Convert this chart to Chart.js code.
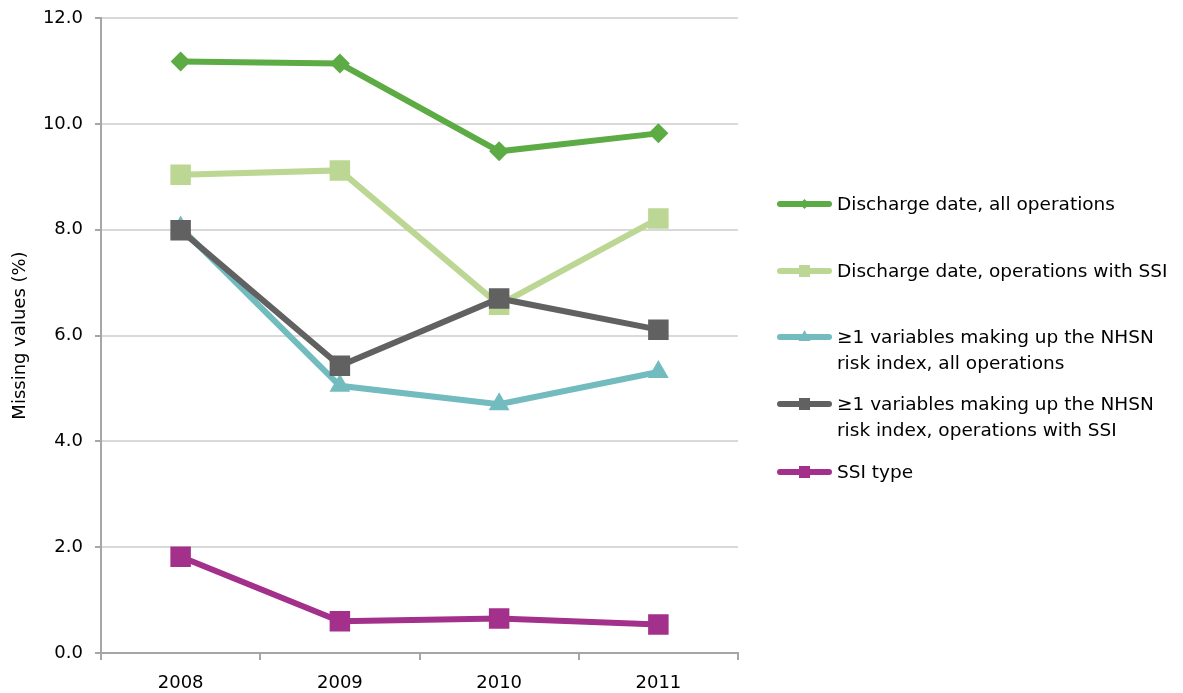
<!DOCTYPE html>
<html>
<head>
<meta charset="utf-8">
<script src="https://cdn.jsdelivr.net/npm/chart.js@4/dist/chart.umd.min.js"></script>
<style>
  body { margin: 0; background: #fff; font-family: "DejaVu Sans", sans-serif; }
  #wrap { position: relative; width: 1183px; height: 693px; }
  #legend { position: absolute; left: 777px; top: 0; width: 406px; }
  .item { position: absolute; left: 0; display: flex; align-items: flex-start; font-size: 18.5px; line-height: 26px; color: #000; }
  .swatch { width: 55px; height: 26px; flex: none; margin-right: 5px; }
</style>
</head>
<body>
<div id="wrap">
  <canvas id="chart" width="1183" height="693"></canvas>
  <div id="legend"></div>
</div>
<script>
const years = ["2008", "2009", "2010", "2011"];
const dischargeAll = [11.18, 11.14, 9.48, 9.82];
const dischargeSSI = [9.04, 9.12, 6.58, 8.21];
const riskAll = [8.04, 5.05, 4.70, 5.31];
const riskSSI = [7.99, 5.43, 6.70, 6.11];
const ssiType = [1.82, 0.60, 0.65, 0.54];
const yTicks = [0, 2, 4, 6, 8, 10, 12];

const series = [
  { label: "Discharge date, all operations", data: dischargeAll, color: "#5dab45", style: "rectRot", radius: 10, order: 4, top: 191 },
  { label: "Discharge date, operations with SSI", data: dischargeSSI, color: "#bcd793", style: "rect", radius: 14.5, order: 3, top: 258 },
  { label: "≥1 variables making up the NHSN\nrisk index, all operations", data: riskAll, color: "#72bbbf", style: "triangle", radius: 12, order: 2, top: 324 },
  { label: "≥1 variables making up the NHSN\nrisk index, operations with SSI", data: riskSSI, color: "#616161", style: "rect", radius: 14.5, order: 1, top: 391 },
  { label: "SSI type", data: ssiType, color: "#a3308a", style: "rect", radius: 14.5, order: 0, top: 459 }
];

const ctx = document.getElementById("chart").getContext("2d");
const chart = new Chart(ctx, {
  type: "line",
  data: {
    labels: years,
    datasets: series.map(s => ({
      label: s.label,
      data: s.data,
      borderColor: s.color,
      backgroundColor: s.color,
      borderWidth: 6,
      pointStyle: s.style,
      pointRadius: s.radius,
      pointBorderWidth: 0,
      order: s.order,
      tension: 0
    }))
  },
  options: {
    responsive: false,
    animation: false,
    layout: { padding: { top: 0, right: 445, bottom: 0, left: 0 } },
    plugins: { legend: { display: false }, tooltip: { enabled: false } },
    scales: {
      x: {
        offset: true,
        grid: { offset: true, drawOnChartArea: false, tickLength: 7, color: "#a6a6a6", lineWidth: 2 },
        border: { color: "#a6a6a6", width: 2 },
        ticks: { color: "#000", font: { family: "DejaVu Sans", size: 18 }, padding: 13 },
        afterFit: function (scale) { scale.height = 40; }
      },
      y: {
        min: 0,
        max: 12,
        afterBuildTicks: function (scale) { scale.ticks = yTicks.map(v => ({ value: v })); },
        grid: { color: "#d9d9d9", lineWidth: 2, tickLength: 6, tickColor: "#a6a6a6" },
        border: { color: "#a6a6a6", width: 2 },
        ticks: {
          color: "#000",
          font: { family: "DejaVu Sans", size: 18 },
          padding: 12,
          callback: v => v.toFixed(1)
        },
        title: {
          display: true,
          text: "Missing values (%)",
          color: "#000",
          font: { family: "DejaVu Sans", size: 18 },
          padding: { top: 10, bottom: 0 }
        },
        afterFit: function (scale) {
          scale.width = 101;
          scale.paddingTop = 18;
          scale.paddingBottom = 0;
        }
      }
    }
  }
});

// legend beside the plot, one line sample with marker per series
const legend = document.getElementById("legend");
series.forEach(s => {
  const item = document.createElement("div");
  item.className = "item";
  item.style.top = s.top + "px";
  const sw = document.createElement("canvas");
  sw.className = "swatch";
  sw.width = 55; sw.height = 26;
  const c = sw.getContext("2d");
  c.strokeStyle = s.color;
  c.lineWidth = 6;
  c.lineCap = "round";
  c.beginPath(); c.moveTo(3, 13); c.lineTo(52, 13); c.stroke();
  c.fillStyle = s.color;
  if (s.style === "rectRot") {
    c.beginPath(); c.moveTo(27.5, 8); c.lineTo(32.5, 13); c.lineTo(27.5, 18); c.lineTo(22.5, 13); c.closePath(); c.fill();
  } else if (s.style === "triangle") {
    c.beginPath(); c.moveTo(27.5, 6); c.lineTo(33.5, 17); c.lineTo(21.5, 17); c.closePath(); c.fill();
  } else {
    c.fillRect(22, 7, 11, 12);
  }
  const txt = document.createElement("div");
  txt.innerHTML = s.label.replace("\n", "<br>");
  item.appendChild(sw);
  item.appendChild(txt);
  legend.appendChild(item);
});
</script>
</body>
</html>
